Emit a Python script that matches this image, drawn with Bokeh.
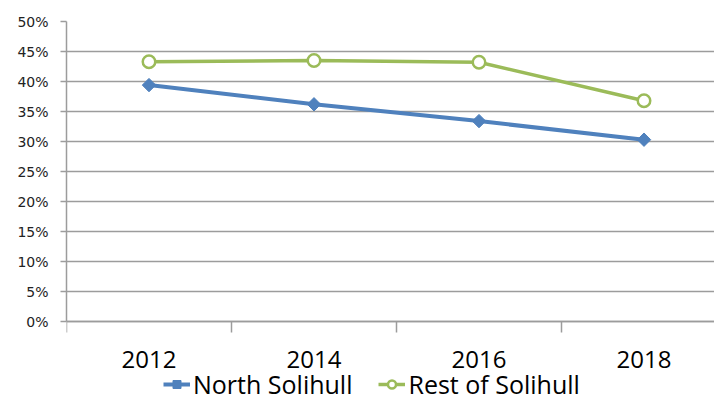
import math
from bokeh.plotting import figure
from bokeh.models import (Range1d, FixedTicker, Legend, LegendItem,
                          PrintfTickFormatter, ColumnDataSource)
from bokeh.embed import file_html
from bokeh.resources import INLINE

# ---- data ----
years = ["2012", "2014", "2016", "2018"]
north_solihull = [39.4, 36.2, 33.4, 30.3]
rest_of_solihull = [43.3, 43.5, 43.2, 36.8]
y_ticks = [0, 5, 10, 15, 20, 25, 30, 35, 40, 45, 50]

BLUE = "#4F81BD"
GREEN = "#9BBB59"
GRID = "#9c9c9c"

xs = list(range(len(years)))
bounds_x = [i - 0.5 for i in range(len(years) + 1)]
src = ColumnDataSource(dict(x=xs, north=north_solihull, rest=rest_of_solihull))

W, H = 714, 401
TOP = 21
PX_PER_CAT = 165.0
PX_PER_PCT = 6.0
frame_w = W - 66
frame_h = H - TOP

p = figure(width=W, height=H, output_backend="svg", toolbar_location=None,
           x_range=Range1d(-0.5, -0.5 + frame_w / PX_PER_CAT),
           y_range=Range1d(50 - frame_h / PX_PER_PCT, 50),
           min_border_left=66, min_border_right=0, min_border_top=TOP,
           min_border_bottom=0)
p.outline_line_color = None
p.background_fill_color = "white"
p.border_fill_color = "white"

# y axis (only spans 0..50%)
yax = p.yaxis[0]
yax.ticker = FixedTicker(ticks=y_ticks)
yax.bounds = (0, 50)
yax.formatter = PrintfTickFormatter(format="%d%%")
yax.major_tick_out = 6
yax.major_tick_in = 0
yax.minor_tick_out = 0
yax.minor_tick_in = 0
yax.axis_line_color = GRID
yax.axis_line_width = 1.5
yax.major_tick_line_color = GRID
yax.major_tick_line_width = 1.5
yax.major_label_standoff = 12
yax.major_label_text_font = "DejaVu Sans"
yax.major_label_text_font_size = "14px"
yax.major_label_text_color = "#222222"

# x axis drawn on the 0% line
xax = p.xaxis[0]
xax.fixed_location = 0
xax.ticker = FixedTicker(ticks=xs, minor_ticks=bounds_x)
xax.major_label_overrides = {i: y for i, y in zip(xs, years)}
xax.major_tick_out = 0
xax.major_tick_in = 0
xax.minor_tick_out = 11
xax.minor_tick_in = 0
xax.minor_tick_line_color = GRID
xax.minor_tick_line_width = 1.5
xax.axis_line_color = GRID
xax.axis_line_width = 1.5
xax.major_label_standoff = 18
xax.major_label_text_font = "Open Sans"
xax.major_label_text_font_size = "24px"
xax.major_label_text_color = "#000000"

p.xgrid.grid_line_color = None
p.ygrid.ticker = FixedTicker(ticks=y_ticks)
p.ygrid.grid_line_color = GRID
p.ygrid.grid_line_width = 1.5

# series
l1 = p.line("x", "north", source=src, line_color=BLUE, line_width=4)
m1 = p.scatter("x", "north", source=src, marker="square", size=9.5,
               angle=math.pi / 4, fill_color=BLUE, line_color=BLUE, line_width=1)
l2 = p.line("x", "rest", source=src, line_color=GREEN, line_width=3.5)
m2 = p.scatter("x", "rest", source=src, marker="circle", size=12.5,
               fill_color="white", line_color=GREEN, line_width=2.5)

legend = Legend(items=[LegendItem(label="North Solihull", renderers=[l1, m1]),
                       LegendItem(label="Rest of Solihull", renderers=[l2, m2])],
                orientation="horizontal", location=(97, 0))
legend.label_text_font = "Open Sans"
legend.label_text_font_size = "25px"
legend.label_text_color = "#000000"
legend.glyph_width = 27
legend.glyph_height = 20
legend.label_standoff = 3
legend.spacing = 26
legend.padding = 0
legend.margin = 0
legend.border_line_color = None
legend.background_fill_alpha = 0
p.add_layout(legend, "center")

open("out.html", "w").write(file_html(p, INLINE))
